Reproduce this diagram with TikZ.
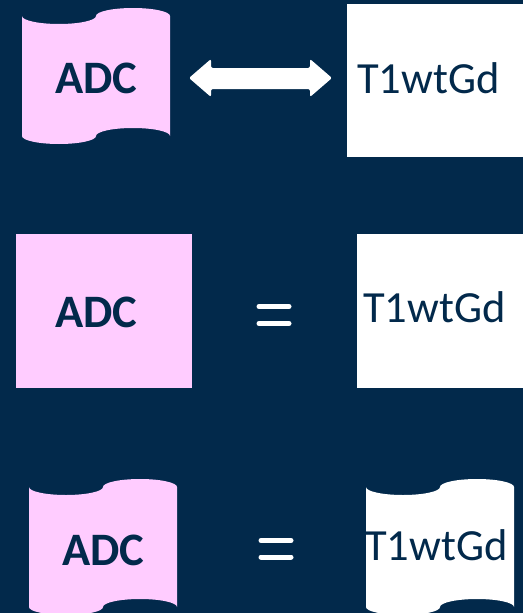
\documentclass[tikz,border=0pt]{standalone}
\usepackage{fontspec}
\setmainfont{Carlito}
\definecolor{navy}{RGB}{2,41,75}
\definecolor{pinkbox}{RGB}{255,204,255}
\newcommand\tapeshape[3]{% x0, top, fill
  \fill[#3] ({#1},{#2})
    .. controls ({#1},{#2+4.42}) and ({#1+16.56},{#2+8}) .. ({#1+37},{#2+8})
    .. controls ({#1+57.44},{#2+8}) and ({#1+74},{#2+4.42}) .. ({#1+74},{#2})
    .. controls ({#1+74},{#2-4.42}) and ({#1+90.56},{#2-8}) .. ({#1+111},{#2-8})
    .. controls ({#1+131.44},{#2-8}) and ({#1+148},{#2-4.42}) .. ({#1+148},{#2})
    -- ({#1+148},{#2+120})
    .. controls ({#1+148},{#2+115.58}) and ({#1+131.44},{#2+112}) .. ({#1+111},{#2+112})
    .. controls ({#1+90.56},{#2+112}) and ({#1+74},{#2+115.58}) .. ({#1+74},{#2+120})
    .. controls ({#1+74},{#2+124.42}) and ({#1+57.44},{#2+128}) .. ({#1+37},{#2+128})
    .. controls ({#1+16.56},{#2+128}) and ({#1},{#2+124.42}) .. ({#1},{#2+120})
    -- cycle;}
\tikzset{
  adctext/.style={text=navy, font=\fontsize{46.5}{50}\selectfont\bfseries, inner sep=0pt, anchor=base west},
  ttext/.style={text=navy, font=\fontsize{44.5}{50}\selectfont, inner sep=0pt, anchor=base west},
  eqbar/.style={draw=white, line width=5pt, line cap=round}
}
\begin{document}
\begin{tikzpicture}[x=1pt,y=-1pt]
\useasboundingbox (0,0) rectangle (523,613);
\fill[navy] (0,0) rectangle (523,613);
% row 1
\tapeshape{22}{16}{pinkbox}
\node[adctext] (adc1) at (55,93) {ADC};
\fill[white] (347,4) rectangle (523,157);
\node[ttext] (t1) at (357,93) {T1wtGd};
\fill[white, rounded corners=2pt] (189,78) -- (211,59) -- (211,68) -- (310,68) -- (310,59) -- (332,78) -- (310,97) -- (310,89) -- (211,89) -- (211,97) -- cycle;
% row 2
\fill[pinkbox] (16,234) rectangle (192,388);
\node[adctext] (adc2) at (55,327) {ADC};
\fill[white] (357,234) rectangle (523,388);
\node[ttext] (t2) at (363,322) {T1wtGd};
\draw[eqbar] (259,306.5) -- (289,306.5);
\draw[eqbar] (259,323.5) -- (289,323.5);
% row 3
\tapeshape{29}{487}{pinkbox}
\node[adctext] (adc3) at (62,565) {ADC};
\tapeshape{366}{487}{white}
\node[ttext] (t3) at (365,560) {T1wtGd};
\draw[eqbar] (261,540.5) -- (291,540.5);
\draw[eqbar] (261,557) -- (291,557);
\end{tikzpicture}
\end{document}
